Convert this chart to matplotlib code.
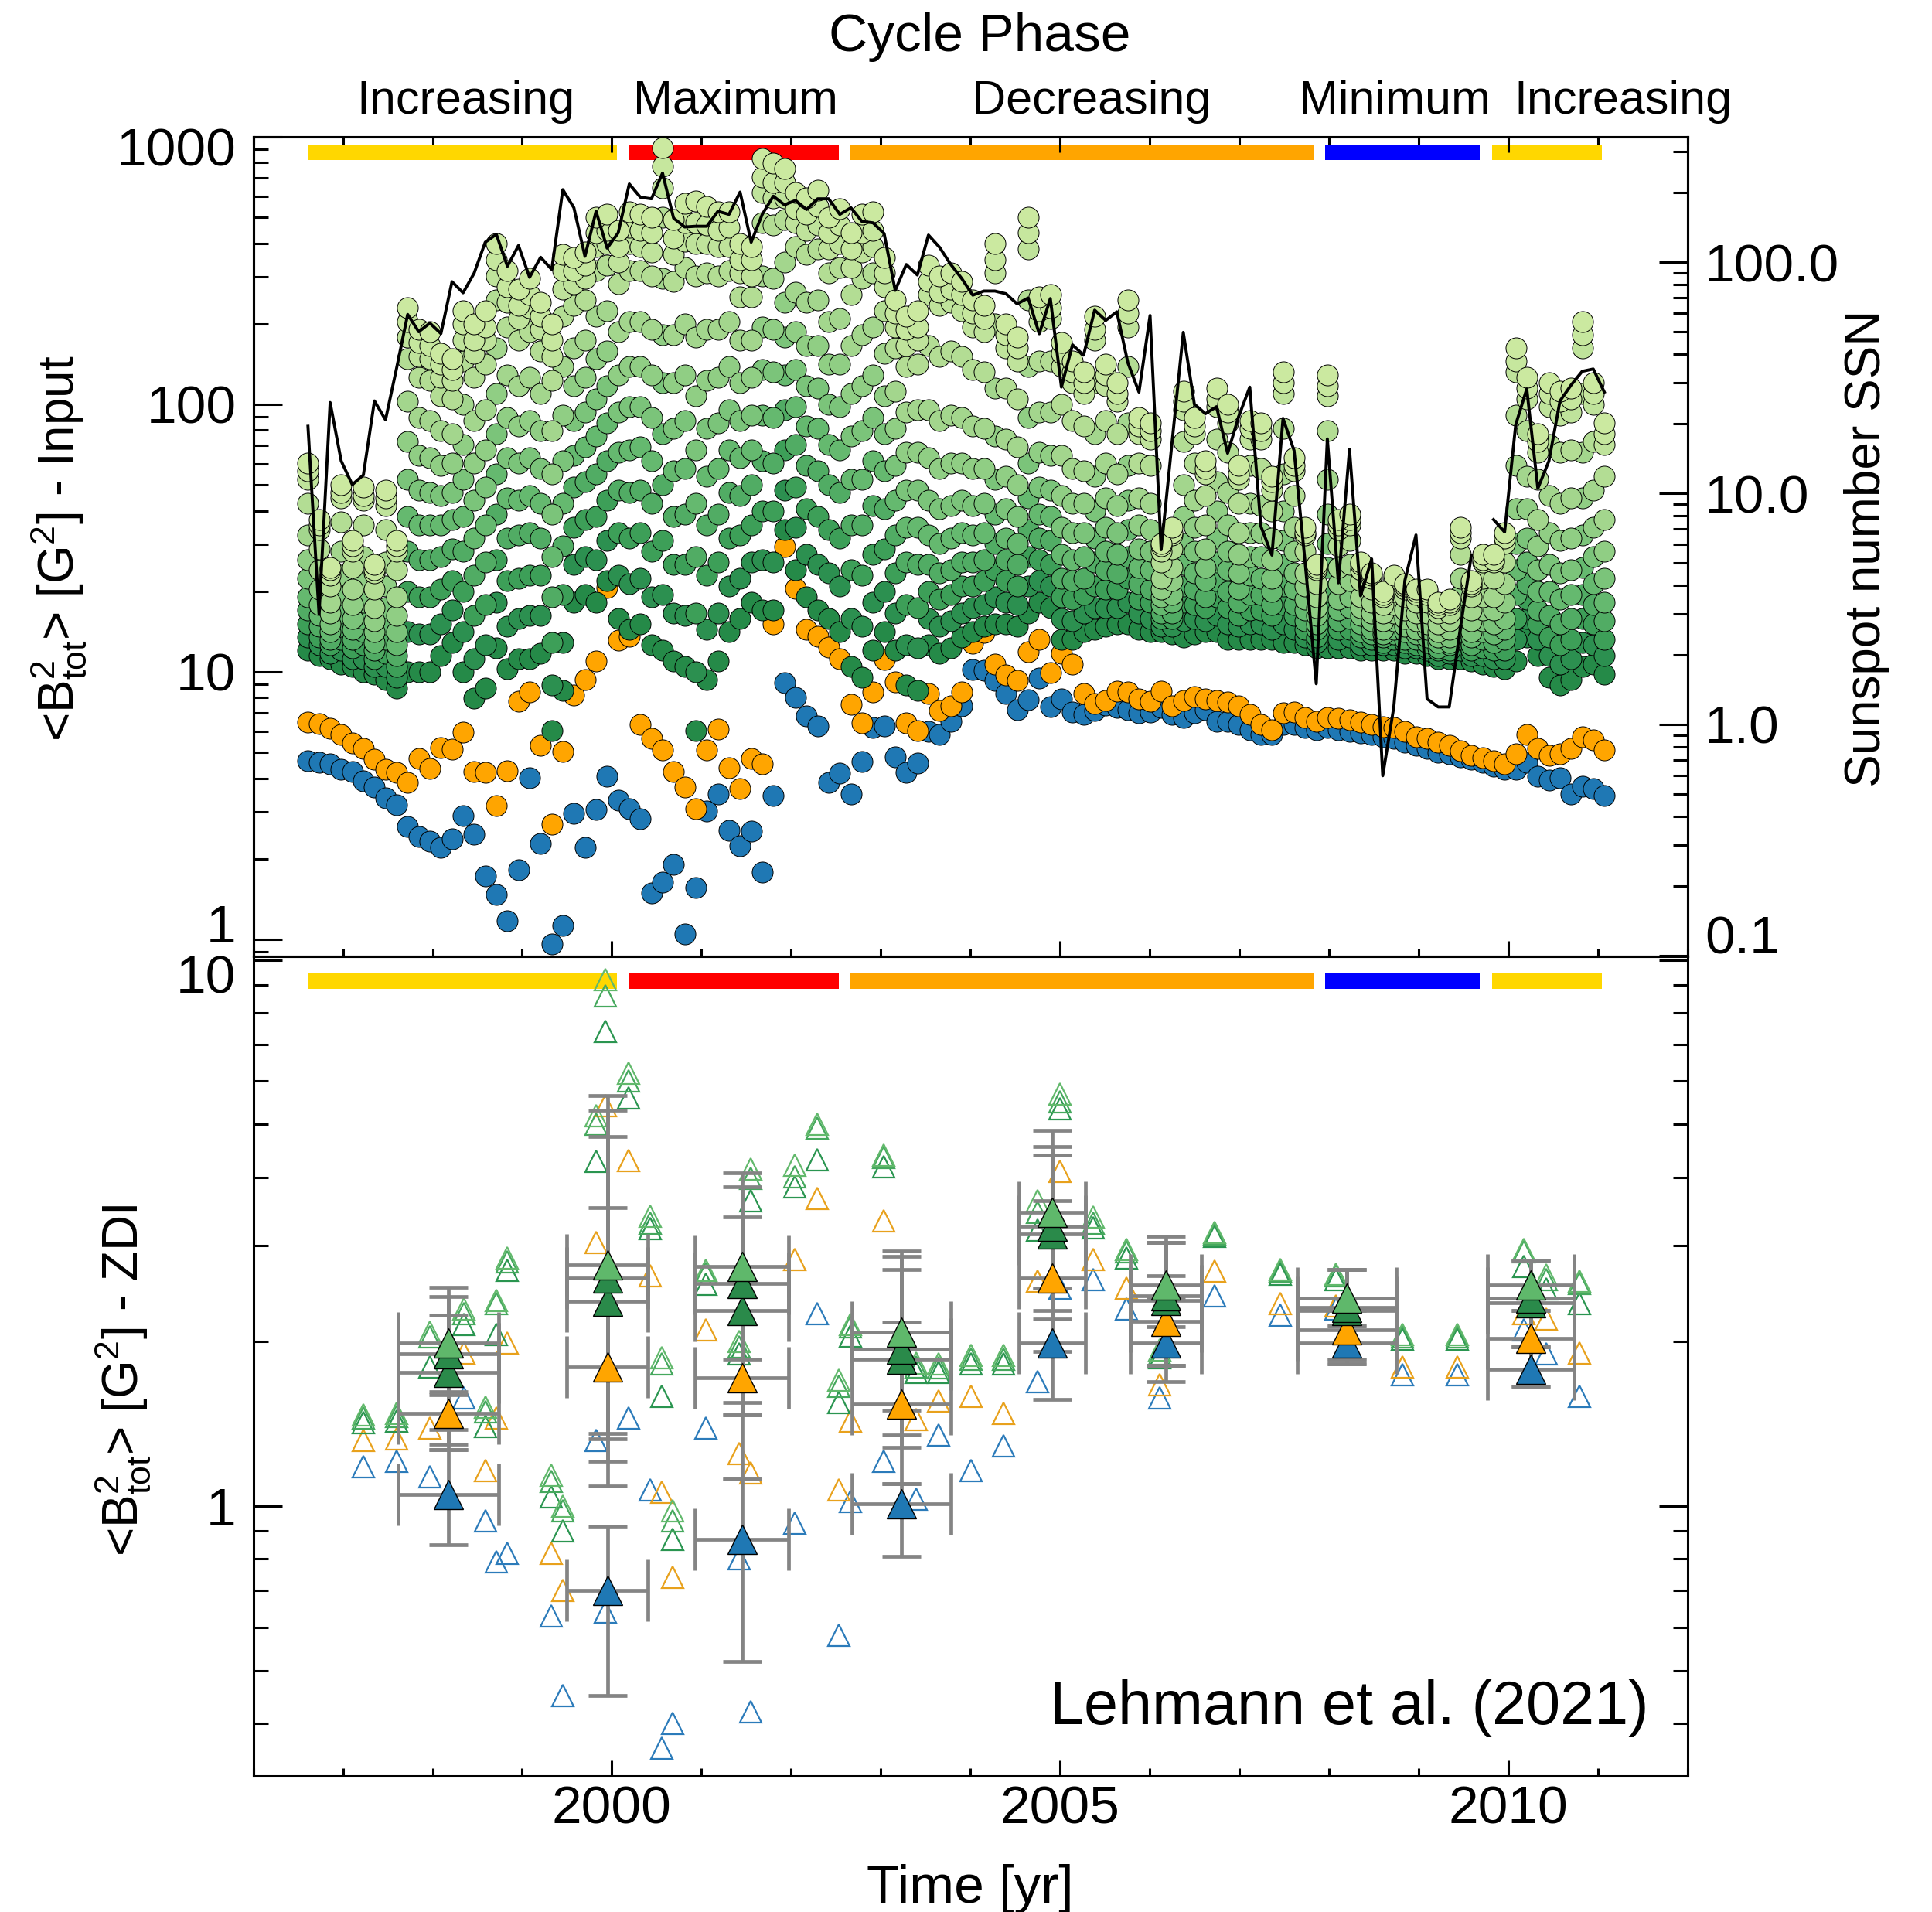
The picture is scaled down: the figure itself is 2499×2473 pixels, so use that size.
import numpy as np
import matplotlib.pyplot as plt
from matplotlib.transforms import blended_transform_factory, ScaledTranslation
from matplotlib.ticker import FixedLocator, LogLocator, NullFormatter, FuncFormatter, MultipleLocator

plt.rcParams['font.family'] = ['Liberation Sans', 'DejaVu Sans']
plt.rcParams['mathtext.fontset'] = 'custom'
plt.rcParams['mathtext.rm'] = 'Liberation Sans'
plt.rcParams['mathtext.it'] = 'Liberation Sans:italic'
plt.rcParams['mathtext.bf'] = 'Liberation Sans:bold'

# ---------------- input maps: one every ~45 days ----------------
n_maps = 118
t_first = 1996.61
t_step = 0.1236
years = t_first + t_step * np.arange(n_maps)

# monthly sunspot number at each map epoch (nan = no value)
nan = np.nan
ssn = [19.5, 3.0, 24.7, 13.8, 10.9, 12.0, 25.1, 20.8, 34.8, 59.4,
       50.0, 54.5, 49.1, 82.3, 73.7, 89.7, 122, 132, 96, 118,
       86, 105, 93, 206, 172, 106, 166, 115, 134, 218,
       191, 188, 243, 155, 142, 143, 143, 166, 161, 201,
       122, 161, 193, 177, 185, 169, 188, 188, 161, 172,
       150, 148, 133, 75.5, 97.7, 88, 131, 116, 98, 85,
       72, 75, 75, 73, 66, 70, 49, 69.6, 28.8, 43.9,
       39.6, 62, 56, 61, 36.7, 27.4, 58.8, 5.7, 16.9, 49.7,
       24.3, 22.1, 23.7, 14.9, 21.5, 28.8, 7.2, 5.4, 21.1, 15.3,
       5.0, 1.5, 17.2, 4.1, 15.5, 3.6, 5.2, 0.60, 1.19, 4.2,
       6.6, 1.29, 1.19, 1.19, 2.6, 5.4, nan, 7.7, 6.8, 19.8,
       28.3, 10.5, 13.8, 25.1, 29.4, 33.7, 34.5, 27.4]

# <B^2> of the dipole (l=1) part of each input map [G^2]
b2_l1 = [4.65, 4.58, 4.53, 4.33, 4.24, 3.91, 3.71, 3.37, 3.19, 2.64,
         2.42, 2.32, 2.20, 2.38, 2.89, 2.47, 1.73, 1.47, 1.17, 1.82,
         4.01, 2.28, 0.96, 1.13, 2.95, 2.20, 3.05, 4.08, 3.31, 3.07,
         2.83, 1.49, 1.64, 1.91, 1.05, 1.56, 3.01, 3.49, 2.55, 2.23,
         2.53, 1.78, 3.44, 9.1, 8.0, 6.84, 6.26, 3.86, 4.17, 3.49,
         4.62, 6.18, 6.26, 4.80, 4.22, 4.55, 5.98, 5.81, 6.54, 7.48,
         10.2, 10.1, 9.26, 8.29, 7.21, 7.84, 9.48, 7.43, 7.94, 7.09,
         6.95, 7.15, 7.52, 7.37, 7.21, 7.0, 7.09, 7.37, 6.95, 6.75,
         7.0, 7.21, 6.54, 6.54, 6.36, 6.07, 5.81, 5.81, 6.36, 6.36,
         6.17, 6.07, 6.17, 6.07, 5.98, 5.90, 5.81, 5.72, 5.64, 5.47,
         5.31, 5.16, 5.01, 4.93, 4.82, 4.72, 4.58, 4.45, 4.32, 4.32,
         4.58, 4.06, 3.94, 4.01, 3.50, 3.72, 3.67, 3.45]

# <B^2> up to l=2
b2_l2 = [6.47, 6.40, 6.15, 5.81, 5.42, 5.18, 4.70, 4.33, 4.22, 3.86,
         4.73, 4.35, 5.20, 5.15, 5.96, 4.24, 4.20, 3.17, 4.27, 7.78,
         8.39, 5.31, 2.70, 5.05, 8.19, 9.34, 11.0, 20.7, 13.1, 13.6,
         6.37, 5.65, 5.11, 4.24, 3.71, 3.07, 5.09, 6.09, 4.38, 3.67,
         4.73, 4.53, 15.1, 29.4, 20.5, 14.4, 13.6, 12.4, 11.2, 7.58,
         6.43, 8.39, 11.1, 9.18, 6.43, 6.03, 8.30, 7.15, 7.48, 8.42,
         12.8, 14.0, 10.7, 9.70, 9.26, 11.9, 13.2, 9.91, 11.7, 10.7,
         8.30, 7.59, 7.82, 8.47, 8.42, 7.94, 7.75, 8.47, 7.48, 7.82,
         8.05, 7.94, 7.82, 7.70, 7.48, 6.94, 6.36, 6.07, 7.0, 7.09,
         6.74, 6.54, 6.74, 6.70, 6.60, 6.49, 6.36, 6.25, 6.17, 5.98,
         5.72, 5.64, 5.47, 5.31, 5.08, 4.86, 4.79, 4.65, 4.54, 4.93,
         5.81, 5.16, 4.86, 4.93, 5.16, 5.72, 5.56, 5.11]

# log10 <B^2> up to l = 3 ... 14 (one row per map)
b2_green_log10 = [
    [1.08, 1.13, 1.18, 1.23, 1.28, 1.35, 1.42, 1.51, 1.63, 1.72, 1.75, 1.78],
    [1.06, 1.10, 1.13, 1.17, 1.21, 1.25, 1.31, 1.38, 1.46, 1.53, 1.55, 1.57],
    [1.05, 1.07, 1.10, 1.12, 1.15, 1.18, 1.22, 1.26, 1.32, 1.36, 1.38, 1.39],
    [1.03, 1.08, 1.12, 1.17, 1.22, 1.29, 1.36, 1.45, 1.56, 1.65, 1.67, 1.70],
    [1.02, 1.05, 1.09, 1.12, 1.16, 1.20, 1.25, 1.31, 1.39, 1.45, 1.47, 1.49],
    [1.00, 1.05, 1.10, 1.15, 1.20, 1.26, 1.34, 1.43, 1.55, 1.64, 1.66, 1.69],
    [0.99, 1.02, 1.05, 1.08, 1.11, 1.15, 1.19, 1.24, 1.31, 1.37, 1.38, 1.40],
    [0.97, 1.02, 1.07, 1.12, 1.18, 1.24, 1.32, 1.41, 1.53, 1.62, 1.65, 1.68],
    [0.94, 0.98, 1.02, 1.06, 1.10, 1.15, 1.21, 1.28, 1.38, 1.45, 1.47, 1.49],
    [1.00, 1.15, 1.30, 1.45, 1.58, 1.72, 1.86, 2.01, 2.17, 2.25, 2.31, 2.36],
    [1.00, 1.14, 1.28, 1.42, 1.55, 1.68, 1.81, 1.95, 2.10, 2.18, 2.23, 2.28],
    [1.00, 1.14, 1.28, 1.42, 1.55, 1.67, 1.80, 1.94, 2.09, 2.17, 2.22, 2.27],
    [1.06, 1.18, 1.31, 1.43, 1.55, 1.66, 1.77, 1.90, 2.03, 2.10, 2.15, 2.19],
    [1.11, 1.23, 1.34, 1.46, 1.57, 1.67, 1.78, 1.89, 2.02, 2.09, 2.13, 2.17],
    [1.00, 1.15, 1.30, 1.45, 1.58, 1.72, 1.85, 2.00, 2.16, 2.24, 2.30, 2.35],
    [0.90, 1.05, 1.21, 1.36, 1.50, 1.64, 1.78, 1.94, 2.10, 2.19, 2.24, 2.30],
    [0.94, 1.10, 1.25, 1.41, 1.55, 1.69, 1.83, 1.98, 2.15, 2.24, 2.29, 2.35],
    [1.09, 1.26, 1.42, 1.59, 1.74, 1.89, 2.04, 2.21, 2.39, 2.48, 2.54, 2.60],
    [1.01, 1.17, 1.34, 1.50, 1.65, 1.80, 1.95, 2.11, 2.29, 2.38, 2.44, 2.50],
    [1.05, 1.20, 1.35, 1.51, 1.64, 1.78, 1.92, 2.07, 2.24, 2.32, 2.37, 2.43],
    [1.05, 1.21, 1.36, 1.52, 1.66, 1.80, 1.94, 2.10, 2.27, 2.36, 2.41, 2.47],
    [1.07, 1.21, 1.36, 1.50, 1.63, 1.76, 1.90, 2.04, 2.20, 2.28, 2.33, 2.38],
    [0.78, 0.95, 1.11, 1.28, 1.43, 1.59, 1.74, 1.90, 2.09, 2.18, 2.24, 2.30],
    [0.93, 1.11, 1.29, 1.47, 1.63, 1.79, 1.96, 2.14, 2.33, 2.43, 2.50, 2.56],
    [1.26, 1.40, 1.54, 1.69, 1.81, 1.94, 2.07, 2.21, 2.37, 2.45, 2.50, 2.55],
    [1.29, 1.43, 1.57, 1.71, 1.84, 1.97, 2.10, 2.24, 2.39, 2.47, 2.52, 2.57],
    [1.26, 1.42, 1.58, 1.74, 1.88, 2.02, 2.17, 2.33, 2.50, 2.59, 2.64, 2.70],
    [1.34, 1.49, 1.64, 1.79, 1.93, 2.07, 2.20, 2.35, 2.52, 2.60, 2.65, 2.71],
    [1.20, 1.36, 1.52, 1.68, 1.82, 1.97, 2.11, 2.27, 2.45, 2.53, 2.59, 2.65],
    [1.16, 1.33, 1.50, 1.67, 1.83, 1.99, 2.14, 2.31, 2.50, 2.60, 2.66, 2.72],
    [1.18, 1.35, 1.52, 1.68, 1.84, 1.99, 2.14, 2.31, 2.50, 2.59, 2.65, 2.71],
    [1.10, 1.28, 1.45, 1.63, 1.79, 1.95, 2.11, 2.28, 2.48, 2.57, 2.64, 2.70],
    [1.08, 1.29, 1.49, 1.70, 1.89, 2.08, 2.26, 2.47, 2.70, 2.81, 2.89, 2.96],
    [1.04, 1.22, 1.40, 1.58, 1.75, 1.91, 2.08, 2.26, 2.46, 2.56, 2.62, 2.69],
    [1.02, 1.21, 1.40, 1.59, 1.76, 1.94, 2.11, 2.30, 2.51, 2.61, 2.68, 2.75],
    [0.78, 1.00, 1.22, 1.43, 1.63, 1.83, 2.03, 2.25, 2.48, 2.60, 2.68, 2.76],
    [0.97, 1.16, 1.36, 1.55, 1.73, 1.91, 2.09, 2.28, 2.49, 2.60, 2.67, 2.74],
    [1.04, 1.22, 1.41, 1.59, 1.76, 1.93, 2.10, 2.28, 2.48, 2.59, 2.65, 2.72],
    [1.15, 1.32, 1.50, 1.67, 1.83, 1.98, 2.14, 2.31, 2.50, 2.59, 2.66, 2.72],
    [1.20, 1.35, 1.51, 1.66, 1.80, 1.94, 2.08, 2.24, 2.40, 2.49, 2.54, 2.60],
    [1.26, 1.41, 1.55, 1.70, 1.83, 1.96, 2.10, 2.24, 2.40, 2.48, 2.54, 2.59],
    [1.23, 1.42, 1.60, 1.79, 1.96, 2.13, 2.29, 2.48, 2.68, 2.79, 2.85, 2.92],
    [1.23, 1.41, 1.60, 1.78, 1.95, 2.12, 2.28, 2.47, 2.67, 2.77, 2.83, 2.90],
    [1.53, 1.68, 1.83, 1.98, 2.11, 2.25, 2.38, 2.53, 2.69, 2.77, 2.83, 2.88],
    [1.38, 1.54, 1.69, 1.85, 1.99, 2.13, 2.27, 2.42, 2.59, 2.68, 2.73, 2.79],
    [1.28, 1.44, 1.61, 1.77, 1.92, 2.07, 2.22, 2.38, 2.56, 2.65, 2.71, 2.77],
    [1.23, 1.40, 1.58, 1.75, 1.91, 2.06, 2.22, 2.39, 2.58, 2.67, 2.74, 2.80],
    [1.20, 1.37, 1.53, 1.70, 1.85, 2.00, 2.15, 2.31, 2.49, 2.58, 2.64, 2.70],
    [1.15, 1.32, 1.50, 1.67, 1.83, 1.99, 2.15, 2.32, 2.51, 2.60, 2.67, 2.73],
    [1.02, 1.20, 1.38, 1.55, 1.72, 1.88, 2.04, 2.22, 2.41, 2.51, 2.58, 2.64],
    [0.98, 1.17, 1.36, 1.55, 1.72, 1.90, 2.07, 2.26, 2.47, 2.57, 2.64, 2.71],
    [1.08, 1.26, 1.44, 1.62, 1.79, 1.95, 2.11, 2.29, 2.49, 2.59, 2.65, 2.72],
    [1.15, 1.30, 1.46, 1.61, 1.75, 1.89, 2.03, 2.19, 2.35, 2.44, 2.49, 2.55],
    [1.08, 1.22, 1.37, 1.51, 1.64, 1.77, 1.91, 2.05, 2.21, 2.29, 2.34, 2.39],
    [0.95, 1.10, 1.25, 1.41, 1.54, 1.68, 1.82, 1.97, 2.14, 2.22, 2.28, 2.33],
    [0.93, 1.09, 1.24, 1.40, 1.54, 1.68, 1.82, 1.98, 2.15, 2.24, 2.29, 2.35],
    [1.10, 1.20, 1.30, 1.40, 1.51, 1.64, 1.80, 1.98, 2.22, 2.41, 2.46, 2.52],
    [1.07, 1.17, 1.27, 1.37, 1.48, 1.61, 1.76, 1.94, 2.18, 2.37, 2.42, 2.48],
    [1.09, 1.19, 1.29, 1.38, 1.50, 1.62, 1.78, 1.96, 2.20, 2.38, 2.43, 2.49],
    [1.13, 1.22, 1.32, 1.41, 1.52, 1.64, 1.78, 1.95, 2.18, 2.35, 2.41, 2.46],
    [1.15, 1.24, 1.32, 1.41, 1.51, 1.62, 1.76, 1.92, 2.13, 2.29, 2.34, 2.39],
    [1.17, 1.25, 1.34, 1.42, 1.52, 1.63, 1.76, 1.91, 2.12, 2.27, 2.32, 2.37],
    [1.18, 1.28, 1.38, 1.48, 1.59, 1.72, 1.88, 2.06, 2.30, 2.49, 2.54, 2.60],
    [1.18, 1.26, 1.34, 1.42, 1.50, 1.61, 1.73, 1.87, 2.06, 2.21, 2.26, 2.30],
    [1.17, 1.25, 1.32, 1.40, 1.48, 1.58, 1.70, 1.84, 2.02, 2.16, 2.21, 2.25],
    [1.22, 1.32, 1.43, 1.53, 1.65, 1.78, 1.95, 2.14, 2.39, 2.58, 2.64, 2.70],
    [1.26, 1.34, 1.42, 1.50, 1.59, 1.69, 1.82, 1.97, 2.16, 2.31, 2.35, 2.40],
    [1.24, 1.32, 1.40, 1.49, 1.58, 1.68, 1.81, 1.97, 2.16, 2.32, 2.36, 2.41],
    [1.12, 1.20, 1.28, 1.35, 1.44, 1.54, 1.66, 1.81, 2.00, 2.14, 2.19, 2.23],
    [1.12, 1.19, 1.27, 1.34, 1.42, 1.52, 1.63, 1.76, 1.94, 2.08, 2.12, 2.16],
    [1.15, 1.22, 1.29, 1.35, 1.43, 1.52, 1.63, 1.75, 1.92, 2.04, 2.08, 2.12],
    [1.16, 1.24, 1.32, 1.41, 1.50, 1.60, 1.73, 1.89, 2.08, 2.24, 2.28, 2.33],
    [1.17, 1.24, 1.31, 1.38, 1.45, 1.54, 1.65, 1.78, 1.94, 2.07, 2.11, 2.15],
    [1.18, 1.24, 1.31, 1.37, 1.44, 1.52, 1.62, 1.74, 1.89, 2.01, 2.04, 2.08],
    [1.18, 1.26, 1.35, 1.43, 1.53, 1.64, 1.77, 1.93, 2.14, 2.29, 2.34, 2.39],
    [1.16, 1.22, 1.27, 1.33, 1.39, 1.46, 1.55, 1.65, 1.78, 1.89, 1.92, 1.95],
    [1.15, 1.20, 1.26, 1.31, 1.38, 1.45, 1.53, 1.63, 1.77, 1.87, 1.90, 1.93],
    [1.15, 1.17, 1.20, 1.22, 1.25, 1.28, 1.31, 1.35, 1.41, 1.45, 1.47, 1.48],
    [1.14, 1.17, 1.20, 1.22, 1.26, 1.29, 1.34, 1.39, 1.46, 1.51, 1.52, 1.54],
    [1.13, 1.19, 1.26, 1.32, 1.40, 1.48, 1.58, 1.70, 1.86, 1.98, 2.01, 2.05],
    [1.14, 1.20, 1.25, 1.31, 1.37, 1.45, 1.54, 1.64, 1.78, 1.89, 1.92, 1.95],
    [1.15, 1.19, 1.24, 1.28, 1.34, 1.39, 1.46, 1.55, 1.66, 1.74, 1.76, 1.79],
    [1.15, 1.21, 1.28, 1.34, 1.41, 1.50, 1.60, 1.71, 1.87, 1.99, 2.02, 2.06],
    [1.12, 1.18, 1.24, 1.30, 1.38, 1.45, 1.55, 1.67, 1.82, 1.93, 1.97, 2.00],
    [1.12, 1.17, 1.21, 1.26, 1.31, 1.37, 1.44, 1.52, 1.63, 1.72, 1.74, 1.77],
    [1.12, 1.18, 1.23, 1.29, 1.36, 1.43, 1.52, 1.63, 1.77, 1.87, 1.91, 1.94],
    [1.12, 1.18, 1.23, 1.29, 1.35, 1.43, 1.52, 1.62, 1.76, 1.87, 1.90, 1.93],
    [1.12, 1.16, 1.21, 1.25, 1.30, 1.35, 1.42, 1.50, 1.60, 1.68, 1.71, 1.73],
    [1.11, 1.18, 1.25, 1.32, 1.40, 1.49, 1.60, 1.74, 1.91, 2.04, 2.08, 2.12],
    [1.11, 1.16, 1.21, 1.25, 1.31, 1.37, 1.45, 1.54, 1.66, 1.75, 1.77, 1.80],
    [1.10, 1.13, 1.16, 1.19, 1.23, 1.27, 1.32, 1.37, 1.45, 1.51, 1.52, 1.54],
    [1.09, 1.11, 1.13, 1.16, 1.18, 1.21, 1.24, 1.28, 1.33, 1.38, 1.39, 1.40],
    [1.09, 1.16, 1.23, 1.30, 1.39, 1.48, 1.59, 1.72, 1.90, 2.03, 2.07, 2.11],
    [1.09, 1.12, 1.16, 1.19, 1.23, 1.27, 1.33, 1.39, 1.47, 1.53, 1.55, 1.57],
    [1.09, 1.13, 1.16, 1.20, 1.24, 1.28, 1.34, 1.40, 1.49, 1.55, 1.57, 1.59],
    [1.08, 1.10, 1.13, 1.15, 1.18, 1.21, 1.24, 1.28, 1.34, 1.38, 1.40, 1.41],
    [1.08, 1.10, 1.12, 1.14, 1.16, 1.19, 1.22, 1.26, 1.31, 1.35, 1.36, 1.37],
    [1.08, 1.10, 1.11, 1.13, 1.14, 1.16, 1.19, 1.22, 1.25, 1.28, 1.29, 1.30],
    [1.08, 1.10, 1.12, 1.14, 1.16, 1.19, 1.22, 1.25, 1.30, 1.34, 1.35, 1.36],
    [1.07, 1.09, 1.11, 1.12, 1.15, 1.17, 1.20, 1.23, 1.28, 1.31, 1.32, 1.33],
    [1.07, 1.09, 1.10, 1.12, 1.14, 1.16, 1.19, 1.22, 1.26, 1.29, 1.30, 1.31],
    [1.06, 1.08, 1.09, 1.11, 1.13, 1.16, 1.18, 1.22, 1.26, 1.29, 1.30, 1.31],
    [1.05, 1.06, 1.08, 1.09, 1.11, 1.13, 1.15, 1.18, 1.22, 1.24, 1.25, 1.26],
    [1.05, 1.07, 1.08, 1.10, 1.11, 1.13, 1.16, 1.19, 1.22, 1.25, 1.26, 1.27],
    [1.05, 1.08, 1.12, 1.15, 1.19, 1.24, 1.29, 1.35, 1.44, 1.50, 1.52, 1.54],
    [1.04, 1.06, 1.08, 1.10, 1.13, 1.15, 1.19, 1.23, 1.28, 1.32, 1.33, 1.34],
    [1.03, 1.06, 1.09, 1.12, 1.15, 1.19, 1.23, 1.28, 1.35, 1.41, 1.42, 1.44],
    [1.02, 1.05, 1.08, 1.11, 1.14, 1.18, 1.23, 1.28, 1.35, 1.41, 1.42, 1.44],
    [1.01, 1.05, 1.08, 1.12, 1.16, 1.20, 1.26, 1.33, 1.41, 1.48, 1.50, 1.52],
    [1.04, 1.12, 1.20, 1.29, 1.38, 1.48, 1.61, 1.77, 1.96, 2.12, 2.16, 2.21],
    [1.13, 1.20, 1.27, 1.33, 1.41, 1.50, 1.61, 1.73, 1.90, 2.02, 2.06, 2.10],
    [1.06, 1.12, 1.18, 1.23, 1.30, 1.38, 1.47, 1.57, 1.72, 1.82, 1.86, 1.89],
    [0.98, 1.06, 1.13, 1.21, 1.30, 1.40, 1.52, 1.66, 1.85, 1.99, 2.04, 2.08],
    [0.95, 1.03, 1.10, 1.18, 1.27, 1.37, 1.49, 1.63, 1.82, 1.96, 2.01, 2.05],
    [0.97, 1.05, 1.12, 1.20, 1.29, 1.38, 1.50, 1.65, 1.83, 1.97, 2.02, 2.06],
    [1.02, 1.11, 1.20, 1.29, 1.39, 1.51, 1.65, 1.82, 2.04, 2.21, 2.26, 2.31],
    [1.03, 1.10, 1.18, 1.25, 1.33, 1.43, 1.54, 1.68, 1.86, 2.00, 2.04, 2.08],
    [0.99, 1.06, 1.12, 1.19, 1.26, 1.35, 1.45, 1.57, 1.73, 1.85, 1.89, 1.93],
]
green_colors = ['#258a48', '#2c9050', '#3d9f58', '#51ac64', '#65b96f', '#7bc47a',
                '#90ce84', '#a3d68d', '#b3dd94', '#bfe39b', '#c6e79e', '#cbe9a0']

# ---------------- cycle phases ----------------
phase_names = ['Increasing', 'Maximum', 'Decreasing', 'Minimum', 'Increasing']
phase_start = [1996.61, 2000.19, 2002.66, 2007.96, 2009.82]
phase_end = [2000.06, 2002.53, 2007.83, 2009.68, 2011.04]
phase_colors = ['#ffd700', '#ff0000', '#ffa500', '#0000ff', '#ffd700']
phase_label_x = [1998.37, 2001.38, 2005.35, 2008.73, 2011.28]

# ---------------- ZDI reconstructions (individual maps) ----------------
zdi_year = [1997.23, 1997.60, 1997.97, 1998.35, 1998.59, 1998.71, 1998.83, 1999.32, 1999.45, 1999.82,
            1999.93, 2000.19, 2000.43, 2000.56, 2000.68, 2001.05, 2001.42, 2001.55, 2002.04, 2002.29,
            2002.53, 2002.66, 2003.03, 2003.39, 2003.64, 2004.01, 2004.37, 2004.75, 2005.00, 2005.37,
            2005.74, 2006.11, 2006.72, 2007.46, 2008.08, 2008.82, 2009.43, 2010.17, 2010.42, 2010.79]
zdi_green_hi = [1.47, 1.48, 2.08, 2.30, 1.52, 2.38, 2.85, 1.14, 1.00, 5.19,
                9.2, 6.2, 3.40, 1.87, 0.98, 2.70, 2.00, 4.14, 4.21, 5.0,
                1.70, 2.15, 4.40, 1.83, 1.82, 1.89, 1.89, 3.62, 5.68, 3.39,
                2.95, 1.93, 3.17, 2.71, 2.66, 2.06, 2.06, 2.95, 2.65, 2.58]
zdi_green_mid = [1.45, 1.46, 2.04, 2.25, 1.49, 2.35, 2.80, 1.11, 0.98, 5.01,
                 8.6, 6.0, 3.30, 1.82, 0.94, 2.67, 1.96, 3.98, 4.01, 4.93,
                 1.66, 2.13, 4.35, 1.80, 1.79, 1.86, 1.86, 3.45, 5.50, 3.30,
                 2.92, 1.90, 3.15, 2.69, 2.64, 2.04, 2.04, 2.92, 2.60, 2.56]
zdi_green_lo = [1.42, 1.43, 1.80, 2.15, 1.40, 2.06, 2.70, 1.04, 0.90, 4.28,
                7.4, 5.6, 3.22, 1.59, 0.87, 2.55, 1.90, 3.62, 3.85, 4.31,
                1.55, 2.05, 4.18, 1.76, 1.76, 1.82, 1.82, 3.20, 5.35, 3.23,
                2.85, 1.87, 3.12, 2.66, 2.60, 2.02, 2.02, 2.75, 2.50, 2.35]
zdi_orange = [1.32, 1.33, 1.39, 1.91, 1.16, 1.45, 1.99, 0.82, 0.70, 3.04,
              5.41, 4.3, 2.64, 1.06, 0.74, 2.10, 1.25, 1.15, 2.83, 3.66,
              1.07, 1.43, 3.33, 1.44, 1.56, 1.59, 1.48, 2.58, 4.10, 2.83,
              2.51, 1.67, 2.69, 2.35, 2.33, 1.80, 1.80, 2.25, 2.20, 1.91]
zdi_blue = [1.18, 1.21, 1.13, 1.58, 0.94, 0.79, 0.82, 0.63, 0.45, 1.32,
            0.64, 1.45, 1.07, 0.36, 0.40, 1.39, 0.80, 0.42, 0.93, 2.25,
            0.58, 1.02, 1.21, 1.03, 1.35, 1.16, 1.29, 1.69, 2.51, 2.60,
            2.30, 1.58, 2.43, 2.24, 2.30, 1.74, 1.74, 2.10, 1.90, 1.59]

# epoch averages with their spread
epoch_year = [1998.18, 1999.95, 2001.45, 2003.23, 2004.91, 2006.18, 2008.20, 2010.25]
epoch_halfwidth = [0.56, 0.45, 0.52, 0.55, 0.37, 0.40, 0.55, 0.48]
mean_green_light = [1.99, 2.77, 2.75, 2.08, 3.45, 2.54, 2.40, 2.54]
mean_green_dark1 = [1.90, 2.62, 2.56, 1.94, 3.25, 2.43, 2.31, 2.40]
mean_green_dark2 = [1.76, 2.37, 2.28, 1.86, 3.15, 2.38, 2.28, 2.36]
mean_orange = [1.48, 1.80, 1.72, 1.54, 2.62, 2.18, 2.10, 2.03]
mean_blue = [1.05, 0.70, 0.87, 1.01, 1.99, 1.99, 1.99, 1.78]
green_light_low = [1.60, 1.36, 1.55, 1.50, 2.51, 2.13, 2.14, 2.28]
green_light_high = [2.52, 5.64, 4.08, 2.93, 4.88, 3.12, 2.71, 2.82]
green_dark1_low = [1.38, 1.33, 1.47, 1.35, 2.28, 1.81, 1.86, 1.96]
green_dark1_high = [2.42, 5.31, 3.84, 2.87, 4.56, 3.04, 2.71, 2.82]
green_dark2_low = [1.30, 1.21, 1.12, 1.28, 2.20, 1.81, 1.86, 1.96]
green_dark2_high = [2.24, 4.75, 3.39, 2.71, 4.40, 3.04, 2.71, 2.82]
orange_low = [1.27, 1.09, 1.47, 1.10, 1.92, 1.69, 1.82, 1.66]
orange_high = [1.62, 3.52, 1.86, 2.17, 3.62, 2.64, 2.28, 2.28]
blue_low = [0.85, 0.45, 0.52, 0.81, 1.57, 1.81, 1.82, 1.66]
blue_high = [1.27, 0.92, 1.12, 1.10, 2.51, 2.40, 2.14, 1.96]

# ---------------- figure ----------------
fig = plt.figure(figsize=(24.99, 24.73), dpi=100, facecolor='white')
ax1 = fig.add_axes([0.1311, 0.4997, 0.7424, 0.4288])
ax2 = fig.add_axes([0.1311, 0.0710, 0.7424, 0.4287])

TICK_FS = 50
S = 380


def phase_bars(ax, ypos):
    tr = blended_transform_factory(ax.transData, ax.transAxes)
    for s, e, c in zip(phase_start, phase_end, phase_colors):
        ax.plot([s, e], [ypos, ypos], transform=tr, color=c, lw=14.4,
                solid_capstyle='butt', zorder=1)


def style_x(ax, top, labels):
    ax.set_xlim(1996, 2012)
    ax.xaxis.set_major_locator(MultipleLocator(5))
    ax.xaxis.set_minor_locator(MultipleLocator(1))
    ax.tick_params(axis='x', which='major', direction='in', length=14.4, width=2.2,
                   top=top, bottom=True, labelbottom=labels, labelsize=TICK_FS, pad=8)
    ax.tick_params(axis='x', which='minor', direction='in', length=7.2, width=2.2,
                   top=top, bottom=True)
    if labels:
        ax.xaxis.set_major_formatter(FuncFormatter(lambda v, _: f'{v:.0f}'))


def style_logy(ax, majors, fmt, left, right):
    ax.set_yscale('log')
    ax.yaxis.set_major_locator(FixedLocator(majors))
    ax.yaxis.set_major_formatter(FuncFormatter(fmt))
    ax.yaxis.set_minor_locator(LogLocator(base=10, subs=np.arange(2, 10), numticks=50))
    ax.yaxis.set_minor_formatter(NullFormatter())
    ax.tick_params(axis='y', which='major', direction='in', length=26.6, width=2.2,
                   left=left, right=right, labelleft=left, labelright=right,
                   labelsize=TICK_FS, pad=16)
    ax.tick_params(axis='y', which='minor', direction='in', length=13.4, width=2.2,
                   left=left, right=right)


def edge_label(ax, y, text, side, dy):
    # tick label nudged vertically so it stays clear of the panel edge
    tr = blended_transform_factory(ax.transAxes, ax.transData)
    if side == 'left':
        x, dx, ha = 0, -16, 'right'
    else:
        x, dx, ha = 1, 16, 'left'
    off = ScaledTranslation(dx / 72, dy / 72, fig.dpi_scale_trans)
    ax.text(x, y, text, transform=tr + off, ha=ha, va='center',
            fontsize=TICK_FS, clip_on=False)


# ---- top panel: input maps ----
ax1.scatter(years, b2_l1, s=S, color='#1f78b4', edgecolors='black', linewidths=0.7, zorder=3)
ax1.scatter(years, b2_l2, s=S, color='#ffa500', edgecolors='black', linewidths=0.7, zorder=4)
green = 10 ** np.array(b2_green_log10)
for i, col in enumerate(green_colors):
    ax1.scatter(years, green[:, i], s=S, color=col, edgecolors='black',
                linewidths=0.7, zorder=5 + i)
phase_bars(ax1, 0.9814)
ax1.set_ylim(0.862, 1000)
style_logy(ax1, [1, 10, 100, 1000], lambda v, _: f'{v:g}' if v in (10, 100) else '', True, False)
style_x(ax1, True, False)
edge_label(ax1, 1000, '1000', 'left', -14)
edge_label(ax1, 1, '1', 'left', 10)

ax1r = ax1.twinx()
ax1r.plot(years, ssn, color='black', lw=2.8, zorder=5)
style_logy(ax1r, [0.1, 1, 10, 100], lambda v, _: f'{v:.1f}' if v > 0.5 else '', False, True)
ax1r.set_ylim(0.099, 349)
edge_label(ax1r, 0.1, '0.1', 'right', 15)

# ---- bottom panel: ZDI maps ----
phase_bars(ax2, 0.9698)
open_sets = [(zdi_blue, '#2b7bba'), (zdi_orange, '#e8a11c'),
             (zdi_green_lo, '#2a9550'), (zdi_green_mid, '#45a85d'), (zdi_green_hi, '#62b96c')]
for vals, col in open_sets:
    ax2.plot(zdi_year, vals, ls='none', marker='^', ms=20, mfc='none', mec=col,
             mew=1.6, zorder=2)

mean_sets = [(mean_blue, blue_low, blue_high, '#1f78b4'),
             (mean_orange, orange_low, orange_high, '#ffa500'),
             (mean_green_dark2, green_dark2_low, green_dark2_high, '#2a8a4a'),
             (mean_green_dark1, green_dark1_low, green_dark1_high, '#2a8a4a'),
             (mean_green_light, green_light_low, green_light_high, '#5fb86b')]
for vals, lo, hi, col in mean_sets:
    v = np.array(vals)
    ax2.errorbar(epoch_year, v, yerr=[v - np.array(lo), np.array(hi) - v], fmt='none',
                 ecolor='#848484', elinewidth=3.4, capsize=18, capthick=3.4, zorder=3)
    ax2.errorbar(epoch_year, v, xerr=epoch_halfwidth, fmt='none',
                 ecolor='#848484', elinewidth=3.4, capsize=29, capthick=3.4, zorder=3)
for vals, lo, hi, col in mean_sets:
    ax2.plot(epoch_year, vals, ls='none', marker='^', ms=27, mfc=col, mec='black',
             mew=1.0, zorder=4)

ax2.set_ylim(0.32, 10.15)
style_logy(ax2, [1, 10], lambda v, _: '1' if v == 1 else '', True, True)
ax2.tick_params(axis='y', which='both', labelright=False)
style_x(ax2, False, True)
edge_label(ax2, 10, '10', 'left', -18)

for a in (ax1, ax1r, ax2):
    for sp in a.spines.values():
        sp.set_linewidth(2.2)

# ---- texts ----
fig.text(0.507, 0.9806, 'Cycle Phase', ha='center', va='center', fontsize=50)
tr_lab = blended_transform_factory(ax1.transData, fig.transFigure)
for name, x in zip(phase_names, phase_label_x):
    ax1.text(x, 0.947, name, transform=tr_lab, ha='center', va='center',
             fontsize=44, clip_on=False)

fig.text(0.0304, 0.7133, r'<B$^{2}_{\mathrm{tot}}$> [G$^{2}$] - Input', rotation=90,
         ha='center', va='center', fontsize=46)
fig.text(0.0636, 0.278, r'<B$^{2}_{\mathrm{tot}}$> [G$^{2}$] - ZDI', rotation=90,
         ha='center', va='center', fontsize=46)
fig.text(0.9664, 0.7133, 'Sunspot number SSN', rotation=90, ha='center', va='center',
         fontsize=46)
fig.text(0.502, 0.005, 'Time [yr]', ha='center', va='baseline', fontsize=50)
ax2.text(0.973, 0.083, 'Lehmann et al. (2021)', transform=ax2.transAxes, ha='right',
         va='center', fontsize=57)

fig.savefig('out.png', dpi=100, facecolor='white')
